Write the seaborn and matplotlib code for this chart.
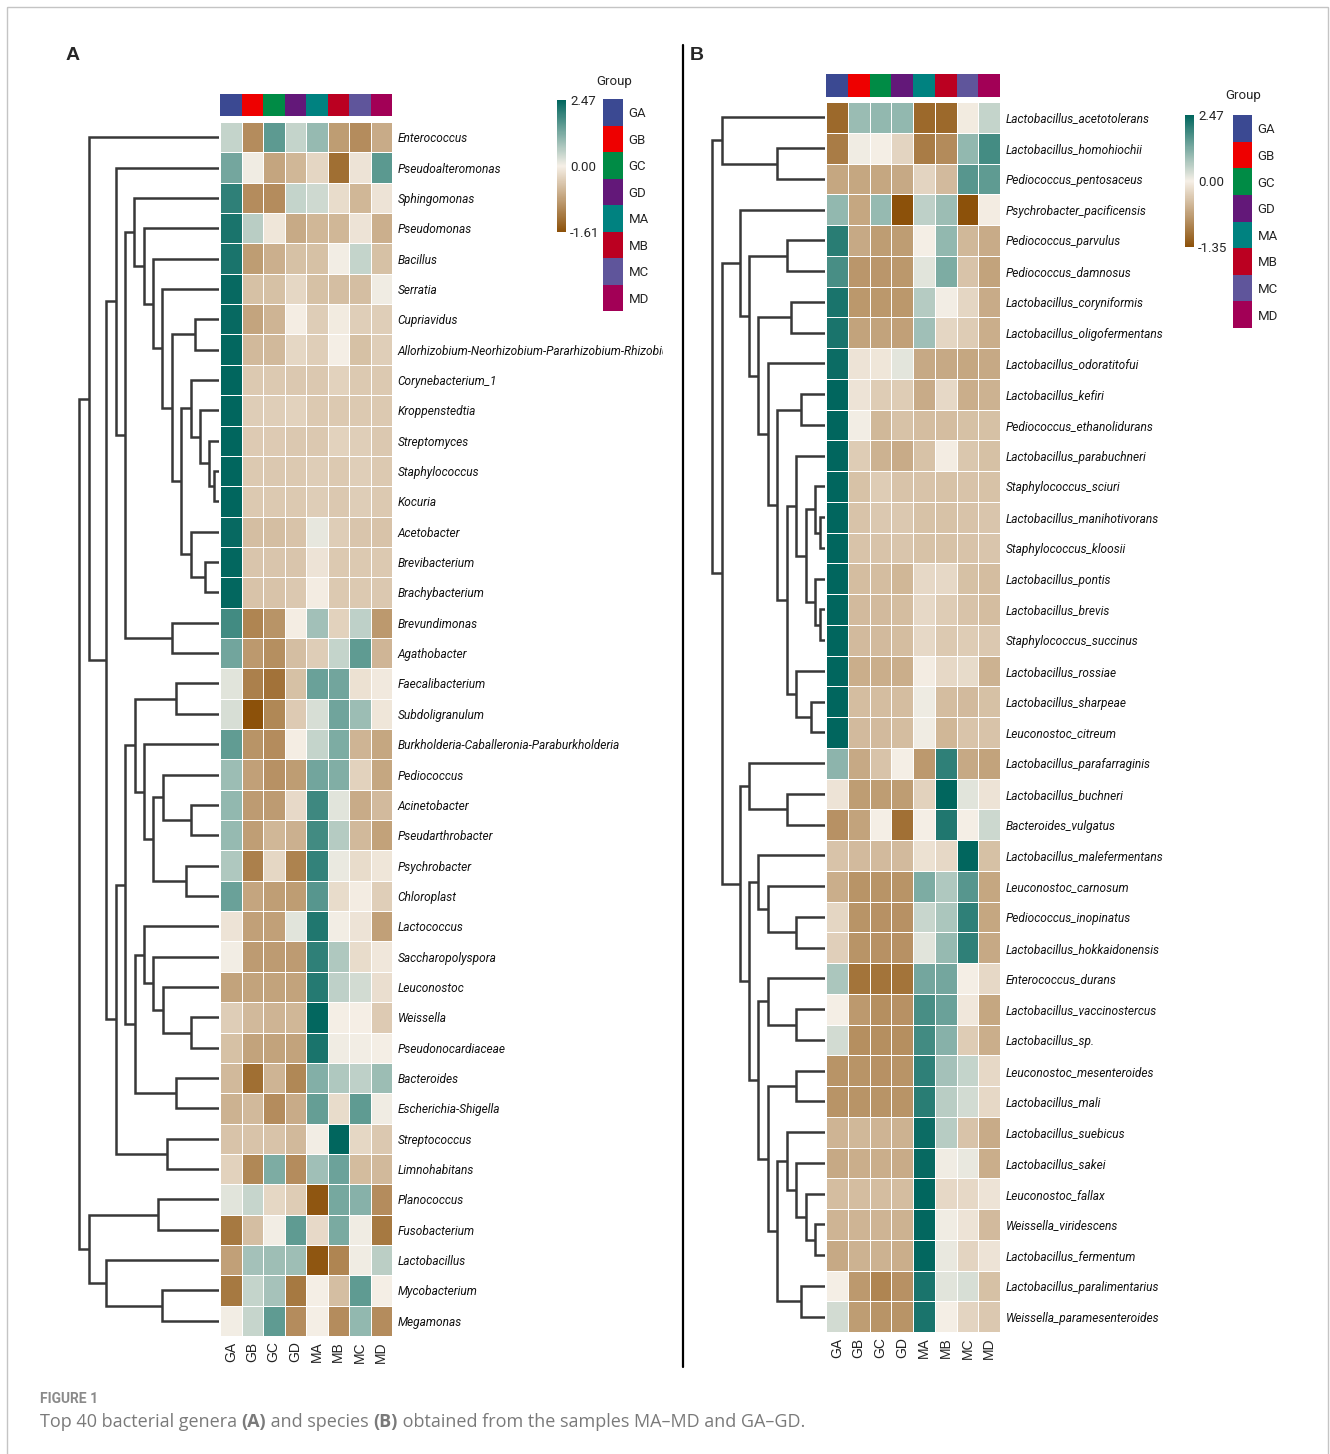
"""
Figure 1 - clustered heatmaps of the top 40 genera (A) and species (B)
across the eight sample groups, with row dendrograms and group legends.
"""
import numpy as np
import pandas as pd
import matplotlib
matplotlib.use("Agg")
import matplotlib.pyplot as plt
from matplotlib.colors import LinearSegmentedColormap, ListedColormap, TwoSlopeNorm
from matplotlib.cm import ScalarMappable
from matplotlib.patches import Rectangle
from matplotlib.transforms import Bbox
import seaborn as sns

W, H = 1330, 1454
NARROW = ["Roboto", "DejaVu Sans"]

# ── data ───────────────────────────────────────────────────────────────

groups = ["GA", "GB", "GC", "GD", "MA", "MB", "MC", "MD"]
group_colors = ["#3B4992", "#EE0000", "#008B45", "#631879",
                "#008280", "#BB0021", "#5F559B", "#A20056"]

genera = [
    "Enterococcus", "Pseudoalteromonas", "Sphingomonas", "Pseudomonas",
    "Bacillus", "Serratia", "Cupriavidus",
    "Allorhizobium-Neorhizobium-Pararhizobium-Rhizobium",
    "Corynebacterium_1", "Kroppenstedtia", "Streptomyces", "Staphylococcus",
    "Kocuria", "Acetobacter", "Brevibacterium", "Brachybacterium",
    "Brevundimonas", "Agathobacter", "Faecalibacterium", "Subdoligranulum",
    "Burkholderia-Caballeronia-Paraburkholderia", "Pediococcus",
    "Acinetobacter", "Pseudarthrobacter", "Psychrobacter", "Chloroplast",
    "Lactococcus", "Saccharopolyspora", "Leuconostoc", "Weissella",
    "Pseudonocardiaceae", "Bacteroides", "Escherichia-Shigella",
    "Streptococcus", "Limnohabitans", "Planococcus", "Fusobacterium",
    "Lactobacillus", "Mycobacterium", "Megamonas",
]

# row z-scores, columns in the order of `groups`
genus_z = [
    [0.49, -1.00, 1.53, 0.49, 0.95, -0.84, -1.00, -0.69],
    [1.30, 0.05, -0.75, -0.57, -0.26, -1.30, -0.12, 1.55],
    [2.00, -1.00, -1.00, 0.49, 0.39, -0.20, -0.57, -0.12],
    [2.20, 0.60, -0.10, -0.70, -0.57, -0.57, -0.12, -0.65],
    [2.20, -0.84, -0.65, -0.47, -0.47, 0.02, 0.49, -0.47],
    [2.40, -0.47, -0.47, -0.25, -0.47, -0.50, -0.50, 0.05],
    [2.40, -0.76, -0.60, -0.02, -0.35, -0.05, -0.33, -0.33],
    [2.45, -0.55, -0.55, -0.25, -0.33, 0.00, -0.47, -0.33],
    [2.47, -0.38, -0.38, -0.40, -0.40, -0.30, -0.38, -0.38],
    [2.47, -0.35, -0.33, -0.30, -0.38, -0.38, -0.38, -0.38],
    [2.47, -0.37, -0.37, -0.40, -0.40, -0.30, -0.33, -0.40],
    [2.47, -0.38, -0.40, -0.38, -0.35, -0.38, -0.33, -0.38],
    [2.47, -0.38, -0.38, -0.38, -0.35, -0.40, -0.35, -0.38],
    [2.40, -0.50, -0.50, -0.45, 0.15, -0.35, -0.42, -0.45],
    [2.45, -0.42, -0.42, -0.42, -0.12, -0.38, -0.38, -0.38],
    [2.45, -0.45, -0.45, -0.40, -0.03, -0.38, -0.38, -0.40],
    [1.80, -1.07, -0.92, -0.02, 0.84, -0.30, 0.55, -0.88],
    [1.33, -0.88, -0.98, -0.50, -0.35, 0.49, 1.52, -0.58],
    [0.20, -1.13, -1.26, -0.47, 1.40, 1.33, -0.15, -0.06],
    [0.30, -1.61, -1.05, -0.37, 0.30, 1.35, 0.90, -0.10],
    [1.50, -0.92, -1.00, -0.02, 0.50, 1.20, -0.60, -0.74],
    [0.90, -0.80, -0.95, -0.84, 1.33, 1.17, -0.30, -0.74],
    [1.00, -0.85, -0.85, -0.22, 1.85, 0.20, -0.68, -0.53],
    [0.95, -0.83, -0.57, -0.63, 1.80, 0.65, -0.55, -0.78],
    [0.70, -1.12, -0.25, -1.10, 1.95, 0.10, -0.20, -0.10],
    [1.40, -0.75, -0.83, -0.84, 1.60, -0.20, -0.03, -0.33],
    [-0.12, -0.80, -0.80, 0.20, 2.15, 0.03, -0.12, -0.80],
    [0.02, -0.85, -0.85, -0.85, 2.00, 0.70, -0.20, -0.08],
    [-0.77, -0.77, -0.77, -0.77, 2.10, 0.55, 0.35, -0.17],
    [-0.35, -0.55, -0.60, -0.57, 2.45, 0.00, -0.01, -0.37],
    [-0.47, -0.77, -0.77, -0.77, 2.20, 0.05, 0.02, 0.00],
    [-0.55, -1.30, -0.60, -1.05, 1.15, 0.70, 0.55, 0.90],
    [-0.62, -0.55, -1.00, -0.68, 1.45, -0.20, 1.52, 0.05],
    [-0.45, -0.45, -0.45, -0.55, 0.02, 2.47, -0.25, -0.40],
    [-0.30, -1.05, 1.20, -1.00, 0.85, 1.38, -0.52, -0.55],
    [0.20, 0.48, -0.25, -0.36, -1.55, 1.28, 1.10, -1.00],
    [-1.20, -0.50, 0.02, 1.52, -0.22, 1.25, 0.05, -1.20],
    [-0.80, 0.82, 0.87, 0.87, -1.55, -1.07, 0.05, 0.58],
    [-1.20, 0.50, 0.80, -1.20, 0.00, -0.50, 1.52, 0.00],
    [0.02, 0.47, 1.52, -1.00, 0.00, -1.00, 1.00, -1.00],
]
genus_range = (-1.61, 2.47)

species = [
    "Lactobacillus_acetotolerans", "Lactobacillus_homohiochii",
    "Pediococcus_pentosaceus", "Psychrobacter_pacificensis",
    "Pediococcus_parvulus", "Pediococcus_damnosus",
    "Lactobacillus_coryniformis", "Lactobacillus_oligofermentans",
    "Lactobacillus_odoratitofui", "Lactobacillus_kefiri",
    "Pediococcus_ethanolidurans", "Lactobacillus_parabuchneri",
    "Staphylococcus_sciuri", "Lactobacillus_manihotivorans",
    "Staphylococcus_kloosii", "Lactobacillus_pontis", "Lactobacillus_brevis",
    "Staphylococcus_succinus", "Lactobacillus_rossiae",
    "Lactobacillus_sharpeae", "Leuconostoc_citreum",
    "Lactobacillus_parafarraginis", "Lactobacillus_buchneri",
    "Bacteroides_vulgatus", "Lactobacillus_malefermentans",
    "Leuconostoc_carnosum", "Pediococcus_inopinatus",
    "Lactobacillus_hokkaidonensis", "Enterococcus_durans",
    "Lactobacillus_vaccinostercus", "Lactobacillus_sp.",
    "Leuconostoc_mesenteroides", "Lactobacillus_mali",
    "Lactobacillus_suebicus", "Lactobacillus_sakei", "Leuconostoc_fallax",
    "Weissella_viridescens", "Lactobacillus_fermentum",
    "Lactobacillus_paralimentarius", "Weissella_paramesenteroides",
]

species_z = [
    [-1.14, 0.91, 1.00, 1.00, -1.14, -1.14, -0.04, 0.50],
    [-0.98, 0.05, 0.01, -0.23, -0.98, -0.85, 1.00, 1.78],
    [-0.62, -0.62, -0.62, -0.60, -0.23, -0.45, 1.60, 1.52],
    [1.00, -0.62, 0.96, -1.35, 0.55, 0.90, -1.35, -0.03],
    [2.05, -0.60, -0.70, -0.70, 0.00, 1.00, -0.47, -0.58],
    [1.75, -0.75, -0.75, -0.74, 0.20, 1.20, -0.37, -0.65],
    [2.20, -0.74, -0.74, -0.74, 0.65, 0.03, -0.22, -0.57],
    [2.20, -0.65, -0.65, -0.67, 0.85, -0.22, -0.30, -0.55],
    [2.35, -0.10, -0.08, 0.18, -0.60, -0.60, -0.62, -0.60],
    [2.47, -0.10, -0.30, -0.30, -0.58, -0.20, -0.55, -0.52],
    [2.47, 0.02, -0.47, -0.38, -0.43, -0.43, -0.40, -0.40],
    [2.47, -0.30, -0.52, -0.57, -0.38, -0.03, -0.34, -0.40],
    [2.47, -0.38, -0.30, -0.37, -0.37, -0.38, -0.37, -0.38],
    [2.47, -0.37, -0.33, -0.33, -0.38, -0.38, -0.37, -0.35],
    [2.47, -0.37, -0.37, -0.35, -0.38, -0.38, -0.37, -0.35],
    [2.47, -0.43, -0.43, -0.48, -0.20, -0.20, -0.40, -0.43],
    [2.47, -0.45, -0.45, -0.43, -0.19, -0.30, -0.37, -0.43],
    [2.47, -0.45, -0.45, -0.43, -0.19, -0.32, -0.30, -0.33],
    [2.47, -0.55, -0.55, -0.55, -0.03, -0.19, -0.17, -0.52],
    [2.47, -0.43, -0.43, -0.43, 0.06, -0.43, -0.45, -0.40],
    [2.47, -0.45, -0.45, -0.43, 0.05, -0.48, -0.36, -0.37],
    [1.05, -0.60, -0.37, 0.00, -0.73, 2.00, -0.60, -0.65],
    [-0.10, -0.70, -0.70, -0.70, -0.25, 2.47, 0.20, -0.10],
    [-0.80, -0.65, 0.00, -1.08, 0.00, 2.15, 0.00, 0.42],
    [-0.37, -0.45, -0.45, -0.45, -0.12, -0.20, 2.47, -0.40],
    [-0.55, -0.77, -0.77, -0.77, 1.20, 0.70, 1.60, -0.62],
    [-0.22, -0.77, -0.80, -0.80, 0.45, 0.75, 2.00, -0.62],
    [-0.27, -0.77, -0.80, -0.80, 0.20, 0.95, 2.00, -0.60],
    [0.75, -1.05, -1.05, -1.05, 1.30, 1.30, 0.00, -0.20],
    [0.00, -0.73, -0.82, -0.80, 1.75, 1.40, -0.07, -0.62],
    [0.35, -0.82, -0.82, -0.82, 1.80, 1.10, -0.30, -0.55],
    [-0.77, -0.77, -0.80, -0.77, 2.00, 0.82, 0.50, -0.20],
    [-0.77, -0.77, -0.77, -0.77, 2.05, 0.60, 0.35, -0.20],
    [-0.50, -0.47, -0.50, -0.52, 2.35, 0.62, -0.37, -0.57],
    [-0.60, -0.55, -0.55, -0.57, 2.40, 0.05, 0.12, -0.55],
    [-0.43, -0.43, -0.43, -0.43, 2.47, -0.20, -0.20, -0.10],
    [-0.50, -0.50, -0.50, -0.52, 2.45, 0.05, -0.10, -0.45],
    [-0.60, -0.52, -0.52, -0.55, 2.45, 0.12, -0.23, -0.10],
    [0.00, -0.73, -0.90, -0.80, 2.20, 0.20, 0.30, -0.40],
    [0.35, -0.70, -0.77, -0.77, 2.20, 0.00, -0.23, -0.33],
]
species_range = (-1.35, 2.47)

# row dendrograms: (merge height, left, right), leaves are row indices
genus_tree = (140,
    (130, 0,
        (113,
            (103, 1,
                (94,
                    (85, 2, (75, 3, (66, 4, (57, 5, (47, (24, 6, 7),
                        (38, (28, 8, (19, 9, (10, 10, (5, 11, 12)))),
                             (28, 13, (14, 14, 15)))))))),
                    (47, 16, 17))),
            (103,
                (94,
                    (84, (43, 18, 19),
                         (75, 20, (66, (56, 21, (28, 22, 23)), (33, 24, 25)))),
                    (84, (75, 26, (66, 27, (56, 28, (28, 29, 30)))),
                         (43, 31, 32))),
                (52, 33, 34)))),
    (130, (61, 35, 36), (113, 37, (57, 38, 39))))

species_tree = (113,
    (103, 0, (48, 1, 2)),
    (103,
        (85, 3, (76, (38, 4, 5), (67, (34, 6, 7), (57, 8, (48, (24, 9, 10),
            (38, (29, 11, (19, (10, 12, (5, 13, 14)), (10, 15, (5, 16, 17)))),
                 (29, 18, (14, 19, 20)))))))),
        (85, (76, 21, (38, 22, 23)),
             (76, (67, 24, (57, 25, (29, 26, 27))),
                  (67, (57, 28, (29, 29, 30)),
                       (57, (29, 31, 32),
                            (48, (38, 33, (29, 34, (19, 35, (10, 36, 37)))),
                                 (24, 38, 39))))))))


# ── helpers ────────────────────────────────────────────────────────────

def px_axes(fig, x0, y0, x1, y1):
    """Axes from pixel box (top-left origin)."""
    return fig.add_axes([x0 / W, 1 - y1 / H, (x1 - x0) / W, (y1 - y0) / H])


def draw_tree(ax, node):
    if isinstance(node, int):
        return node + 0.5, 0
    h, left, right = node
    y1, h1 = draw_tree(ax, left)
    y2, h2 = draw_tree(ax, right)
    ax.plot([h1, h, h, h2], [y1, y1, y2, y2], color="#383838", lw=1.8,
            solid_joinstyle="miter", solid_capstyle="butt")
    return (y1 + y2) / 2, h


def draw_panel(fig, ov, labels, z, zrange, tree, box, clip_x=None):
    cmap = LinearSegmentedColormap.from_list(
        "brown_teal", ["#8C510A", "#F5EFE6", "#01665E"])
    norm = TwoSlopeNorm(vmin=zrange[0], vcenter=0, vmax=zrange[1])
    df = pd.DataFrame(z, index=labels, columns=groups)

    # heatmap
    ax = px_axes(fig, *box["hm"])
    sns.heatmap(df, ax=ax, cmap=cmap, norm=norm, cbar=False,
                linewidths=0.7, linecolor="white",
                xticklabels=groups, yticklabels=labels)
    ax.yaxis.tick_right()
    ax.set_yticklabels(labels, rotation=0, fontstyle="italic",
                       fontsize=8.6, fontfamily=NARROW, color="#111111")
    ax.set_xticklabels(groups, rotation=90, fontsize=10,
                       fontfamily="Liberation Sans", color="#222222")
    ax.tick_params(axis="y", length=0, pad=4)
    ax.tick_params(axis="x", length=0, pad=4)
    ax.set_xlabel("")
    ax.set_ylabel("")
    if clip_x is not None:
        for t in ax.get_yticklabels():
            t.set_clip_box(Bbox.from_extents(0, 0, clip_x, H))
            t.set_clip_on(True)

    # group colour strip
    bax = px_axes(fig, *box["bar"])
    sns.heatmap(np.arange(len(groups)).reshape(1, -1), ax=bax,
                cmap=ListedColormap(group_colors), cbar=False,
                xticklabels=False, yticklabels=False)

    # dendrogram
    x0, y0, x1, y1 = box["den"]
    dax = px_axes(fig, x0, y0, x1, y1)
    draw_tree(dax, tree)
    dax.set_xlim(x1 - x0, 0)
    dax.set_ylim(len(labels), 0)
    dax.axis("off")

    # colour key
    cax = px_axes(fig, *box["cbar"])
    ticks = [zrange[0], 0, zrange[1]]
    cb = fig.colorbar(ScalarMappable(norm=norm, cmap=cmap), cax=cax, ticks=ticks)
    cb.outline.set_visible(False)
    cb.set_ticklabels([f"{v:.2f}" for v in ticks])
    cb.ax.tick_params(length=0, pad=3)
    for t in cb.ax.get_yticklabels():
        t.set_fontsize(9.5)
        t.set_fontfamily(NARROW)

    # group legend
    lax = px_axes(fig, *box["leg"])
    sns.heatmap(np.arange(len(groups)).reshape(-1, 1), ax=lax,
                cmap=ListedColormap(group_colors), cbar=False,
                xticklabels=False, yticklabels=groups)
    lax.yaxis.tick_right()
    lax.set_yticklabels(groups, rotation=0, fontsize=9.5, fontfamily=NARROW)
    lax.tick_params(axis="y", length=0, pad=4)
    lax.set_ylabel("")
    gx, gy = box["group_title"]
    ov.text(gx, gy, "Group", ha="center", va="center", fontsize=9.5,
            fontfamily=NARROW)

    lx, ly = box["letter"]
    ov.text(lx, ly, box["name"], ha="center", va="center", fontsize=14,
            fontweight="bold", fontfamily="Liberation Sans")


# ── figure ─────────────────────────────────────────────────────────────

sns.set_theme(style="white")
plt.rcParams["font.family"] = ["DejaVu Sans"]

fig = plt.figure(figsize=(W / 100, H / 100), dpi=100)

ov = fig.add_axes([0, 0, 1, 1])
ov.set_xlim(0, W)
ov.set_ylim(H, 0)
ov.axis("off")

ov.add_patch(Rectangle((7, 7), 1321, 1460, fill=False, ec="#C4C4C4", lw=1))
ov.plot([683, 683], [45, 1367], color="black", lw=1.6)

panel_a = dict(name="A", hm=(220, 122, 392, 1336), bar=(220, 94, 392, 116),
               den=(60, 122, 219, 1336), cbar=(557, 100, 566, 232),
               leg=(603, 99, 623, 311), group_title=(614, 81), letter=(73, 55))
panel_b = dict(name="B", hm=(826, 102, 1000, 1332), bar=(826, 74, 1000, 97),
               den=(688, 102, 825, 1332), cbar=(1185, 115, 1194, 247),
               leg=(1233, 115, 1252, 328), group_title=(1243, 96), letter=(697, 55))

draw_panel(fig, ov, genera, genus_z, genus_range, genus_tree, panel_a, clip_x=663)
draw_panel(fig, ov, species, species_z, species_range, species_tree, panel_b)

# caption
ov.text(40, 1399, "FIGURE 1", ha="left", va="center", fontsize=10,
        fontweight="bold", fontfamily=NARROW, color="#8A8A8A")
pieces = [("Top 40 bacterial genera ", "normal"), ("(A)", "bold"),
          (" and species ", "normal"), ("(B)", "bold"),
          (" obtained from the samples MA\u2013MD and GA\u2013GD.", "normal")]
t = ov.text(40, 1422, pieces[0][0], ha="left", va="center", fontsize=13,
            fontfamily=["Open Sans", "DejaVu Sans"], color="#7A7A7A")
for text, weight in pieces[1:]:
    t = ov.annotate(text, xy=(1, 0), xycoords=t, ha="left", va="bottom",
                    fontsize=13, fontweight=weight,
                    fontfamily=["Open Sans", "DejaVu Sans"], color="#7A7A7A")

fig.savefig("out.png", dpi=100)
plt.close(fig)
